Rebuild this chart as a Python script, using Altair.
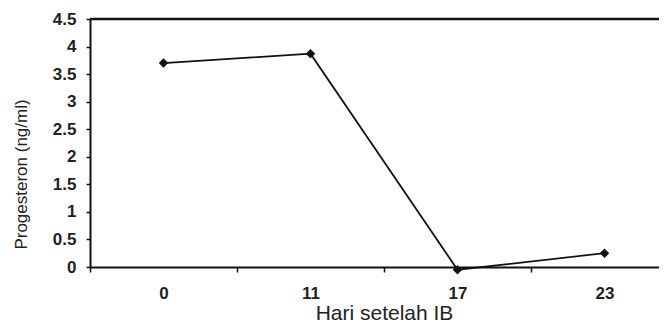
import altair as alt
import pandas as pd

days = ["0", "11", "17", "23"]
progesteron = [3.7, 3.87, -0.05, 0.25]
y_ticks = [0, 0.5, 1, 1.5, 2, 2.5, 3, 3.5, 4, 4.5]
y_top = 4.5

df = pd.DataFrame({"hari": days, "prog": progesteron})
top_df = pd.DataFrame({"prog": [y_top]})

FONT = "Liberation Sans"

x_enc = alt.X(
    "hari:N",
    sort=days,
    title="Hari setelah IB",
    scale=alt.Scale(type="band", range=[0, 588], paddingInner=0, paddingOuter=0),
    axis=alt.Axis(
        labelAngle=0,
        tickBand="extent",
        tickSize=5,
        labelPadding=13,
        titlePadding=1,
        titleFontSize=21,
    ),
)

y_enc = alt.Y(
    "prog:Q",
    title="Progesteron (ng/ml)",
    scale=alt.Scale(domain=[0, y_top], nice=False, zero=False),
    axis=alt.Axis(
        values=y_ticks,
        format="~g",
        labelOverlap=False,
        tickSize=4,
        labelPadding=10,
        titleFontSize=17,
        titleX=-60,
        titleY=155,
    ),
)

line = alt.Chart(df).mark_line(color="#111", strokeWidth=1.8).encode(x=x_enc, y=y_enc)
pts = alt.Chart(df).mark_point(
    shape="diamond", filled=True, color="#111", size=90, opacity=1
).encode(x=x_enc, y=y_enc)
top_rule = alt.Chart(top_df).mark_rule(color="#111", strokeWidth=2.5).encode(y=y_enc)

chart = (
    alt.layer(line, pts, top_rule)
    .properties(
        width=569,
        height=248,
        padding={"left": 82, "top": 11, "right": 0, "bottom": 58},
        autosize=alt.AutoSizeParams(type="none"),
        background="white",
    )
    .configure_view(stroke=None)
    .configure_axis(
        labelFont=FONT,
        labelFontSize=17,
        labelFontWeight="bold",
        labelColor="#222",
        titleFont=FONT,
        titleFontWeight="normal",
        titleColor="#222",
        domainColor="#111",
        domainWidth=2,
        tickColor="#111",
        tickWidth=1.5,
        grid=False,
    )
)

chart.save("out.html", embed_options={"renderer": "svg", "actions": False})
